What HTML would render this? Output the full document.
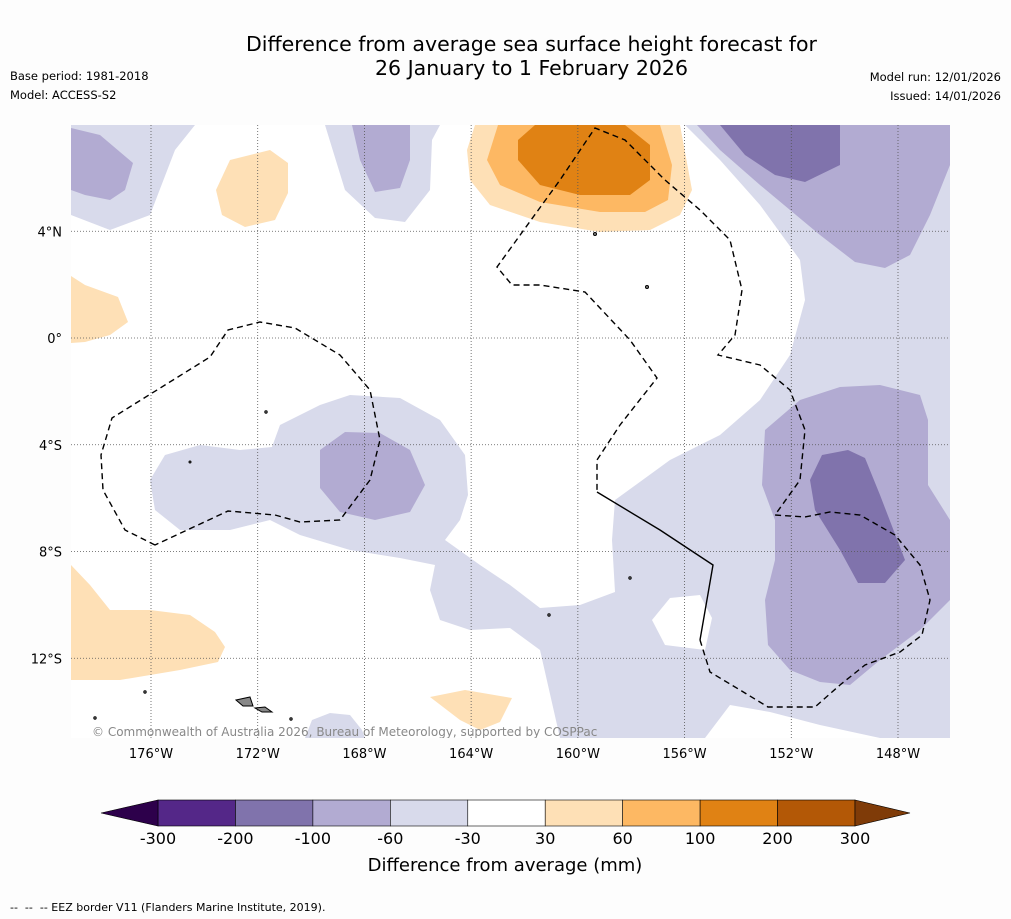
<!DOCTYPE html>
<html><head><meta charset="utf-8">
<style>
html,body{margin:0;padding:0;background:#fdfdfd;}
body{width:1011px;height:919px;position:relative;overflow:hidden;font-family:"DejaVu Sans",sans-serif;color:#000;}
.t{position:absolute;white-space:nowrap;}
</style></head>
<body>
<div class="t" style="left:0;width:1063px;top:32px;text-align:center;font-size:20.5px;line-height:24px;">Difference from average sea surface height forecast for<br>26 January to 1 February 2026</div>
<div class="t" style="left:10px;top:69px;font-size:11.5px;">Base period: 1981-2018</div>
<div class="t" style="left:10px;top:88px;font-size:11.5px;">Model: ACCESS-S2</div>
<div class="t" style="right:10px;top:70px;font-size:11.5px;">Model run: 12/01/2026</div>
<div class="t" style="right:10px;top:89px;font-size:11.5px;">Issued: 14/01/2026</div>
<div class="t" style="left:10px;top:901px;font-size:11px;">-- &nbsp;-- &nbsp;-- EEZ border V11 (Flanders Marine Institute, 2019).</div>

<svg id="svg" width="1011" height="919" style="position:absolute;left:0;top:0" xmlns="http://www.w3.org/2000/svg">
<defs><clipPath id="mc"><rect x="71" y="125" width="879" height="613"/></clipPath></defs>
<g id="map" clip-path="url(#mc)">
<rect x="71" y="125" width="879" height="613" fill="#ffffff"/>
<g id="contours" stroke="none">
<polygon fill="#d8daeb" points="71,125 195,125 175,150 150,215 110,230 71,215"/>
<polygon fill="#d8daeb" points="325,125 440,125 432,140 430,190 405,222 375,218 345,190"/>
<polygon fill="#d8daeb" points="685,125 950,125 950,738 880,738 820,725 770,712 730,705 705,738 560,738 540,650 510,628 470,630 440,620 430,590 435,565 400,558 350,550 300,535 270,520 230,530 180,530 155,510 150,480 165,455 200,445 240,450 272,447 280,425 320,405 350,395 400,398 440,420 465,455 468,495 460,520 445,540 480,565 510,585 540,608 580,605 615,592 612,540 615,500 670,460 720,435 760,400 790,355 805,300 800,260 760,205 720,160"/>
<polygon fill="#ffffff" points="670,598 700,595 712,618 705,650 665,645 652,620"/>
<polygon fill="#d8daeb" points="305,738 312,720 330,713 350,715 362,730 365,738"/>
<polygon fill="#b2abd2" points="71,128 100,135 133,163 125,190 110,200 85,195 71,190"/>
<polygon fill="#b2abd2" points="352,125 410,125 410,160 400,188 375,192 360,160"/>
<polygon fill="#b2abd2" points="697,125 950,125 950,165 930,215 910,255 885,268 855,262 820,235 790,210 760,185 720,150"/>
<polygon fill="#b2abd2" points="320,450 345,432 380,433 410,450 425,485 410,512 375,520 340,512 320,488"/>
<polygon fill="#b2abd2" points="765,430 800,400 840,387 880,385 920,395 928,420 928,485 950,520 950,600 920,630 880,660 850,685 820,682 790,670 768,645 765,600 775,560 775,520 762,485"/>
<polygon fill="#8073ac" points="720,125 840,125 840,165 805,182 775,175 745,155"/>
<polygon fill="#8073ac" points="810,480 822,455 848,450 865,458 880,495 905,560 885,583 858,583 840,550 815,510"/>
<polygon fill="#fee0b6" points="475,125 680,125 692,190 680,215 650,230 600,232 540,222 490,205 470,180 467,150"/>
<polygon fill="#fdb863" points="498,125 660,125 672,165 668,200 645,212 600,212 540,202 500,185 487,160"/>
<polygon fill="#e08214" points="535,125 625,125 650,145 650,180 630,195 580,195 540,185 518,160 518,140"/>
<polygon fill="#fee0b6" points="71,276 85,285 118,297 128,322 110,335 85,342 71,343"/>
<polygon fill="#fee0b6" points="230,160 270,150 288,163 288,193 275,220 245,227 222,215 216,190"/>
<polygon fill="#fee0b6" points="71,565 90,585 110,610 150,610 190,615 215,632 225,647 218,662 180,670 120,680 71,680"/>
<polygon fill="#fee0b6" points="430,697 465,690 512,698 500,722 480,730 460,720"/>
</g>
<g id="grid" stroke="#555" stroke-width="0.8" stroke-dasharray="1,2"></g>
<g id="eez" fill="none" stroke="#000" stroke-width="1.4">
<polyline stroke-dasharray="6,4" points="155,545 125,530 103,490 101,455 112,418 210,357 228,330 260,322 295,328 340,355 370,390 380,440 370,480 340,520 300,522 275,515 228,511 155,545"/>
<polyline stroke-dasharray="6,4" points="700,640 710,672 740,690 768,707 815,707 840,685 865,665 900,652 922,635 930,600 920,565 895,535 860,515 830,512 805,517 775,515 800,480 805,430 790,390 760,365 718,355 735,335 742,290 730,240 700,210 665,180 625,140 595,128 560,180 497,267 512,285 540,285 585,292 630,340 657,378 620,425 597,460 597,492"/>
<polyline points="597,492 660,530 713,565 700,640"/>
</g>
<g id="islands" fill="#888" stroke="#000" stroke-width="1">
<polygon points="236,700 250,697 253,706 243,706"/>
<polygon points="255,708 265,707 272,712 262,712"/>
<circle cx="266" cy="412" r="1.2"/><circle cx="595" cy="234" r="1.5"/><circle cx="647" cy="287" r="1.5"/>
<circle cx="549" cy="615" r="1.2"/><circle cx="145" cy="692" r="1.2"/><circle cx="291" cy="719" r="1.2"/>
<circle cx="95" cy="718" r="1.2"/><circle cx="630" cy="578" r="1.2"/><circle cx="190" cy="462" r="1"/>
</g>
<text x="92" y="736" font-size="12" fill="#888" font-family="DejaVu Sans, sans-serif">© Commonwealth of Australia 2026, Bureau of Meteorology, supported by COSPPac</text>
</g>
<g id="axes" font-family="DejaVu Sans, sans-serif" font-size="13" fill="#000"></g>
<g id="cbar"></g>
<text x="505" y="871" text-anchor="middle" font-size="18" font-family="DejaVu Sans, sans-serif">Difference from average (mm)</text>
</svg>
<script>
const lonTicks=[-176,-172,-168,-164,-160,-156,-152,-148];
const latTicks=[4,0,-4,-8,-12];
const cbLevels=[-300,-200,-100,-60,-30,30,60,100,200,300];
const cbColors=["#542788","#8073ac","#b2abd2","#d8daeb","#ffffff","#fee0b6","#fdb863","#e08214","#b35806"];
const cbUnder="#2d004b", cbOver="#7f3b08";
const NS="http://www.w3.org/2000/svg";
const xLon=l=>151+(l+176)*(747/28);
const yLat=a=>338-a*(427/16);
function mk(t,at,p){const e=document.createElementNS(NS,t);for(const k in at)e.setAttribute(k,at[k]);p.appendChild(e);return e;}
const grid=document.getElementById('grid'),axes=document.getElementById('axes');
lonTicks.forEach(l=>{const x=xLon(l);
 const g=mk('line',{x1:x,x2:x,y1:125,y2:738},grid);
 
 
 const t=mk('text',{x:x,y:758,'text-anchor':'middle'},axes);t.textContent=Math.abs(l)+'°W';
 
 });
latTicks.forEach(a=>{const y=yLat(a);
 const g=mk('line',{x1:71,x2:950,y1:y,y2:y},grid);
 
 
 const t=mk('text',{x:62,y:y+5,'text-anchor':'end'},axes);t.textContent=a===0?'0°':Math.abs(a)+'°'+(a>0?'N':'S');
 
 });
const cb=document.getElementById('cbar');
const cx0=158,cx1=855,cy=800,ch=26,n=cbColors.length,w=(cx1-cx0)/n;
cbColors.forEach((c,i)=>{const r=mk('rect',{x:cx0+i*w,y:cy,width:w,height:ch,fill:c,stroke:'#000','stroke-width':0.6},cb);
 
 });
const u=mk('polygon',{points:`${cx0},${cy} ${cx0},${cy+ch} 101,${cy+ch/2}`,fill:cbUnder,stroke:'#000','stroke-width':0.6},cb);


const o=mk('polygon',{points:`${cx1},${cy} ${cx1},${cy+ch} 910,${cy+ch/2}`,fill:cbOver,stroke:'#000','stroke-width':0.6},cb);


cbLevels.forEach((v,i)=>{const t=mk('text',{x:cx0+i*w,y:844,'text-anchor':'middle','font-size':16,'font-family':'DejaVu Sans, sans-serif'},cb);t.textContent=v;
 
 });
</script>
</body></html>
